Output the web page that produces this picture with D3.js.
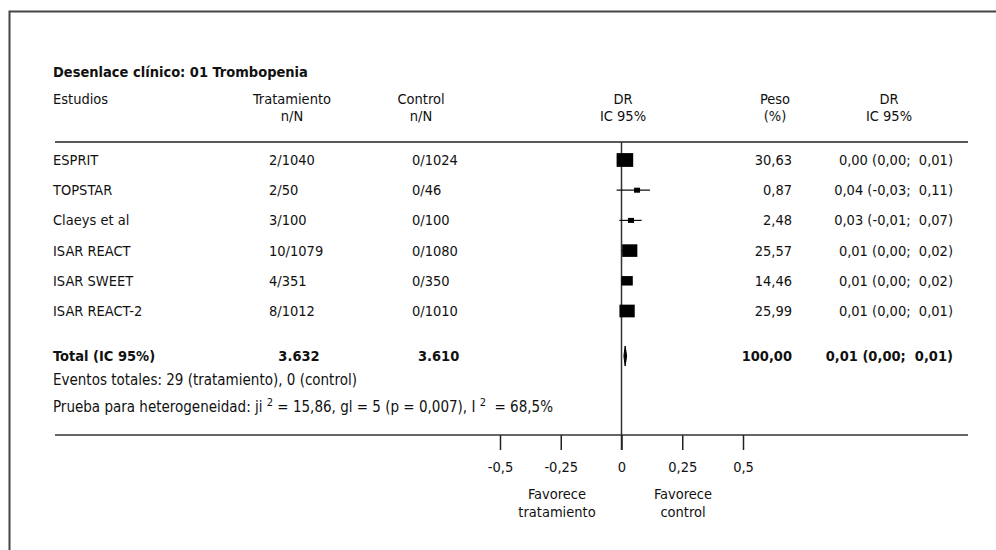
<!DOCTYPE html>
<html>
<head>
<meta charset="utf-8">
<script src="https://cdn.jsdelivr.net/npm/d3@7"></script>
<style>
  body { margin: 0; background: #fff; }
  svg text { font-family: "DejaVu Sans Condensed", "Liberation Sans Narrow", sans-serif; fill: #111; }
</style>
</head>
<body>
<svg width="996" height="550"></svg>
<script>
const studies = ["ESPRIT", "TOPSTAR", "Claeys et al", "ISAR REACT", "ISAR SWEET", "ISAR REACT-2"];
const treatN = ["2/1040", "2/50", "3/100", "10/1079", "4/351", "8/1012"];
const controlN = ["0/1024", "0/46", "0/100", "0/1080", "0/350", "0/1010"];
const weights = [30.63, 0.87, 2.48, 25.57, 14.46, 25.99];
// plotted positions
const estimates = [0.014, 0.064, 0.039, 0.034, 0.023, 0.023];
const lower = [0.00, -0.020, -0.009, 0.00, 0.00, 0.00];
const upper = [0.01, 0.117, 0.083, 0.02, 0.02, 0.01];
const ciLabels = ["0,00 (0,00;  0,01)", "0,04 (-0,03;  0,11)", "0,03 (-0,01;  0,07)",
                  "0,01 (0,00;  0,02)", "0,01 (0,00;  0,02)", "0,01 (0,00;  0,01)"];
const total = {est: 0.015, lo: 0.010, hi: 0.021, treat: "3.632", control: "3.610", weight: "100,00", ci: "0,01 (0,00;  0,01)"};
const tickValues = [-0.5, -0.25, 0, 0.25, 0.5];

var svg = d3.select("svg");

const fmtW = d => d.toFixed(2).replace(".", ",");
const fmtTick = d => String(d).replace(".", ",");

var x = d3.scaleLinear().domain([-0.5, 0.5]).range([500, 743]);
var y = d3.scalePoint().domain(studies).range([160, 311]);
var size = d3.scaleSqrt().domain([0, 30.63]).range([0, 16.6]);

// frame
svg.append("path")
    .attr("d", "M9.5,550 V11.5 H996")
    .attr("fill", "none").attr("stroke", "#444").attr("stroke-width", 2);

svg.append("text").attr("x", 53).attr("y", 77)
    .attr("font-size", 14.5).attr("font-weight", "bold")
    .text("Desenlace clínico: 01 Trombopenia");

// headers
const head = (tx, t1, t2, anchor) => {
  svg.append("text").attr("font-size", 14.5).attr("text-anchor", anchor || "middle")
      .attr("x", tx).attr("y", 104).text(t1);
  if (t2) svg.append("text").attr("font-size", 14.5).attr("text-anchor", anchor || "middle")
      .attr("x", tx).attr("y", 121).text(t2);
};
head(53, "Estudios", null, "start");
head(292, "Tratamiento", "n/N");
head(421, "Control", "n/N");
head(623, "DR", "IC 95%");
head(775, "Peso", "(%)");
head(889, "DR", "IC 95%");

svg.append("line").attr("x1", 55).attr("x2", 968).attr("y1", 142).attr("y2", 142)
    .attr("stroke", "#222").attr("stroke-width", 1.5);

// zero line
svg.append("line").attr("x1", x(0)).attr("x2", x(0)).attr("y1", 142).attr("y2", 450)
    .attr("stroke", "#333").attr("stroke-width", 1.5);

// study rows
let row = svg.selectAll("g.row").data(studies).enter().append("g")
    .attr("class", "row")
    .attr("transform", d => `translate(0,${y(d)})`);

row.append("text").attr("x", 53).attr("dy", "0.35em").attr("font-size", 14.5).text(d => d);
row.append("text").attr("x", 269).attr("dy", "0.35em").attr("font-size", 14.5)
    .text((d, i) => treatN[i]);
row.append("text").attr("x", 412).attr("dy", "0.35em").attr("font-size", 14.5)
    .text((d, i) => controlN[i]);
row.append("text").attr("x", 792).attr("dy", "0.35em").attr("font-size", 14.5)
    .attr("text-anchor", "end").text((d, i) => fmtW(weights[i]));
row.append("text").attr("x", 953).attr("dy", "0.35em").attr("font-size", 14.5)
    .attr("text-anchor", "end").style("white-space", "pre")
    .text((d, i) => ciLabels[i]);

row.append("line")
    .attr("x1", (d, i) => x(lower[i])).attr("x2", (d, i) => x(upper[i]))
    .attr("stroke", "#111").attr("stroke-width", 1.2);

row.append("rect")
    .attr("x", (d, i) => x(estimates[i]) - Math.max(6, size(weights[i])) / 2)
    .attr("y", (d, i) => -Math.max(5, size(weights[i]) * 0.83) / 2)
    .attr("width", (d, i) => Math.max(6, size(weights[i])))
    .attr("height", (d, i) => Math.max(5, size(weights[i]) * 0.83))
    .attr("fill", "#000");

// total row
let ty = 356;
svg.append("text").attr("x", 53).attr("y", ty).attr("dy", "0.35em").attr("font-size", 14.5)
    .attr("font-weight", "bold").text("Total (IC 95%)");
svg.append("text").attr("x", 299).attr("y", ty).attr("dy", "0.35em").attr("font-size", 14.5)
    .attr("font-weight", "bold").attr("text-anchor", "middle").text(total.treat);
svg.append("text").attr("x", 418).attr("y", ty).attr("dy", "0.35em").attr("font-size", 14.5)
    .attr("font-weight", "bold").text(total.control);
svg.append("text").attr("x", 792).attr("y", ty).attr("dy", "0.35em").attr("font-size", 14.5)
    .attr("font-weight", "bold").attr("text-anchor", "end").text(total.weight);
svg.append("text").attr("x", 953).attr("y", ty).attr("dy", "0.35em").attr("font-size", 14.5)
    .attr("font-weight", "bold").attr("text-anchor", "end").style("white-space", "pre").text(total.ci);

svg.append("path")
    .attr("d", `M${x(total.lo)},${ty} L${x(total.est)},${ty - 10} L${x(total.hi)},${ty} L${x(total.est)},${ty + 10} Z`)
    .attr("fill", "#000").attr("stroke", "#000").attr("stroke-width", 1);

svg.append("text").attr("x", 53).attr("y", 380).attr("dy", "0.35em").attr("font-size", 15)
    .text("Eventos totales: 29 (tratamiento), 0 (control)");

let het = svg.append("text").attr("x", 53).attr("y", 407).attr("dy", "0.35em").attr("font-size", 15)
    .style("white-space", "pre");
het.append("tspan").text("Prueba para heterogeneidad: ji ");
het.append("tspan").attr("font-size", 11).attr("dy", "-0.55em").text("2");
het.append("tspan").attr("dy", "0.4em").text(" = 15,86, gl = 5 (p = 0,007), I ");
het.append("tspan").attr("font-size", 11).attr("dy", "-0.55em").text("2");
het.append("tspan").attr("dy", "0.4em").text("  = 68,5%");

// axis
svg.append("line").attr("x1", 55).attr("x2", 968).attr("y1", 435).attr("y2", 435)
    .attr("stroke", "#333").attr("stroke-width", 1.5);

var xAxis = d3.axisBottom(x).tickValues(tickValues).tickSize(15).tickPadding(12).tickFormat(fmtTick);
var gX = svg.append("g").attr("transform", "translate(0,435)").call(xAxis);
gX.select(".domain").remove();
gX.selectAll(".tick line").attr("stroke", "#222").attr("stroke-width", 1.5);
gX.selectAll(".tick text").attr("font-size", 14.5).attr("fill", "#111")
    .attr("font-family", "DejaVu Sans Condensed, sans-serif");

const favor = (cx, t2) => {
  svg.append("text").attr("font-size", 14.5).attr("text-anchor", "middle")
      .attr("x", cx).attr("y", 499).text("Favorece");
  svg.append("text").attr("font-size", 14.5).attr("text-anchor", "middle")
      .attr("x", cx).attr("y", 517).text(t2);
};
favor(557, "tratamiento");
favor(683, "control");
</script>
</body>
</html>
